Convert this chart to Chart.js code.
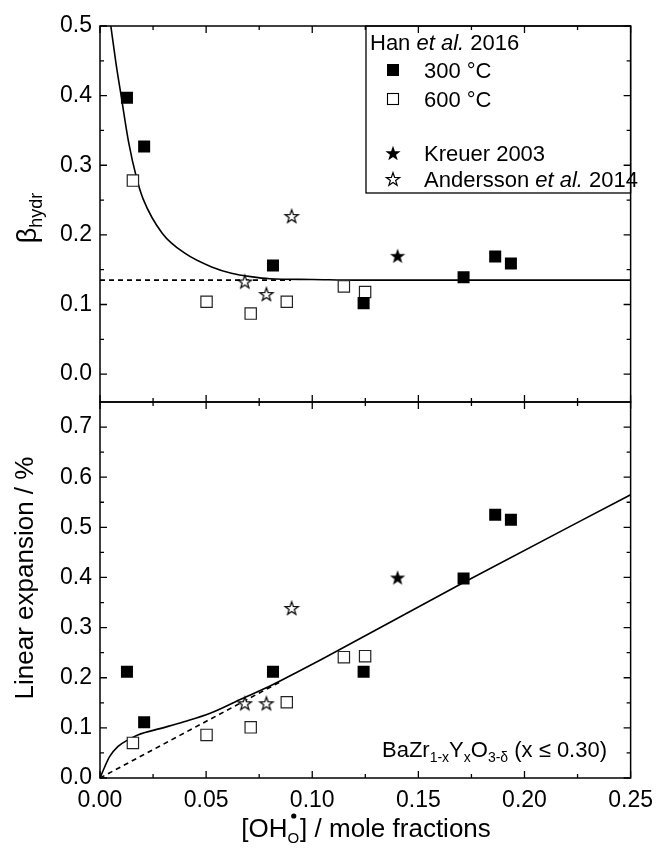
<!DOCTYPE html>
<html>
<head>
<meta charset="utf-8">
<script src="https://cdn.jsdelivr.net/npm/chart.js@4.4.1/dist/chart.umd.min.js"></script>
<style>
  html, body { margin: 0; padding: 0; background: #fff; }
  canvas { display: block; }
</style>
</head>
<body>
<canvas id="chart" width="662" height="855"></canvas>
<script>
// axis ticks
const xTicks = [0, 0.05, 0.1, 0.15, 0.2, 0.25];
const xTickLabels = ['0.00', '0.05', '0.10', '0.15', '0.20', '0.25'];
const xMinor = [0.025, 0.075, 0.125, 0.175, 0.225];
const betaTicks = [0, 0.1, 0.2, 0.3, 0.4, 0.5];
const betaTickLabels = ['0.0', '0.1', '0.2', '0.3', '0.4', '0.5'];
const betaMinor = [0.05, 0.15, 0.25, 0.35, 0.45];
const expTicks = [0, 0.1, 0.2, 0.3, 0.4, 0.5, 0.6, 0.7];
const expTickLabels = ['0.0', '0.1', '0.2', '0.3', '0.4', '0.5', '0.6', '0.7'];
const expMinor = [0.05, 0.15, 0.25, 0.35, 0.45, 0.55, 0.65];

// Han et al. 2016, 300 °C
const han300X = [0.0127, 0.0208, 0.0815, 0.1242, 0.1713, 0.1862, 0.1936];
const han300Beta = [0.397, 0.327, 0.156, 0.102, 0.139, 0.169, 0.159];
const han300Exp = [0.212, 0.111, 0.212, 0.212, 0.398, 0.525, 0.515];
// Han et al. 2016, 600 °C
const han600X = [0.0155, 0.0502, 0.0710, 0.0880, 0.1149, 0.1249];
const han600Beta = [0.278, 0.104, 0.087, 0.104, 0.126, 0.118];
const han600Exp = [0.070, 0.086, 0.101, 0.151, 0.241, 0.243];
// Kreuer 2003
const kreuerX = [0.1402];
const kreuerBeta = [0.170];
const kreuerExp = [0.400];
// Andersson et al. 2014
const anderssonX = [0.0682, 0.0784, 0.0903];
const anderssonBeta = [0.133, 0.115, 0.227];
const anderssonExp = [0.149, 0.149, 0.339];

// model curves
const betaFitX = [0.0051, 0.0075, 0.0101, 0.0135, 0.0173, 0.0204, 0.0294, 0.0403, 0.0526, 0.0619, 0.071, 0.080, 0.100, 0.120, 0.250];
const betaFitY = [0.500, 0.447, 0.397, 0.333, 0.281, 0.251, 0.202, 0.173, 0.154, 0.145, 0.140, 0.137, 0.136, 0.135, 0.135];
const betaLimitX = [0, 0.09];
const betaLimitY = [0.135, 0.135];
const expFitX = [0, 0.0023, 0.0046, 0.0085, 0.0132, 0.0178, 0.0287, 0.0395, 0.0519, 0.0658, 0.0813, 0.0937, 0.1045, 0.1713, 0.250];
const expFitY = [0, 0.023, 0.043, 0.063, 0.076, 0.086, 0.099, 0.112, 0.129, 0.156, 0.186, 0.213, 0.237, 0.390, 0.565];
const expLimitX = [0, 0.085];
const expLimitY = [0, 0.192];

const FONT = '"Liberation Sans", Arial, sans-serif';
const pts = (xs, ys) => xs.map((x, i) => ({ x, y: ys[i] }));

function starPath(g, cx, cy, R) {
  const r = R * 0.4;
  g.beginPath();
  for (let i = 0; i < 10; i++) {
    const a = -Math.PI / 2 + i * Math.PI / 5;
    const rad = i % 2 ? r : R;
    g.lineTo(cx + rad * Math.cos(a), cy + rad * Math.sin(a));
  }
  g.closePath();
}

function makeStar(R, filled) {
  const c = document.createElement('canvas');
  const s = Math.ceil(R * 2 + 4);
  c.width = c.height = s;
  const g = c.getContext('2d');
  starPath(g, s / 2, s / 2 + R * 0.1, R);
  if (filled) {
    g.fillStyle = '#000';
    g.fill();
  } else {
    g.fillStyle = '#fff';
    g.fill();
    g.strokeStyle = '#000';
    g.lineWidth = 1.2;
    g.stroke();
  }
  return c;
}

const filledStar = makeStar(8, true);
const openStar = makeStar(7, false);

function marks(data, yAxisID, kind) {
  const base = { data, yAxisID, showLine: false, order: 0 };
  if (kind === 'filled') return { ...base, pointStyle: 'rect', pointRadius: 8.5, backgroundColor: '#000', borderColor: '#000', borderWidth: 0 };
  if (kind === 'open') return { ...base, pointStyle: 'rect', pointRadius: 8, backgroundColor: '#fff', borderColor: '#222', borderWidth: 1.2 };
  if (kind === 'star') return { ...base, pointStyle: filledStar, pointRadius: 8 };
  return { ...base, pointStyle: openStar, pointRadius: 7 };
}

function curve(data, yAxisID, dashed) {
  return {
    data, yAxisID, showLine: true, order: 1,
    pointRadius: 0, borderColor: '#000', borderWidth: 1.6,
    borderDash: dashed ? [5, 4] : [],
    cubicInterpolationMode: dashed ? 'default' : 'monotone'
  };
}

const datasets = [
  marks(pts(han300X, han300Beta), 'yTop', 'filled'),
  marks(pts(han600X, han600Beta), 'yTop', 'open'),
  marks(pts(kreuerX, kreuerBeta), 'yTop', 'star'),
  marks(pts(anderssonX, anderssonBeta), 'yTop', 'openstar'),
  marks(pts(han300X, han300Exp), 'yBot', 'filled'),
  marks(pts(han600X, han600Exp), 'yBot', 'open'),
  marks(pts(kreuerX, kreuerExp), 'yBot', 'star'),
  marks(pts(anderssonX, anderssonExp), 'yBot', 'openstar'),
  curve(pts(betaFitX, betaFitY), 'yTop', false),
  curve(pts(betaLimitX, betaLimitY), 'yTop', true),
  curve(pts(expFitX, expFitY), 'yBot', false),
  curve(pts(expLimitX, expLimitY), 'yBot', true)
];

function yScale(min, max, ticks, labels) {
  return {
    type: 'linear', position: 'left', stack: 'panels', stackWeight: 1,
    min, max,
    grid: { display: false, drawTicks: false },
    border: { display: false },
    afterBuildTicks: s => { s.ticks = ticks.map(v => ({ value: v })); },
    afterFit: s => { s.width = 100; },
    ticks: {
      color: '#000', padding: 8, autoSkip: false,
      font: { family: FONT, size: 23 },
      callback: (v, i) => labels[i]
    }
  };
}

function drawRich(ctx, parts, x, y) {
  for (const p of parts) {
    ctx.font = (p.italic ? 'italic ' : '') + p.size + 'px ' + FONT;
    ctx.fillText(p.t, x, y + (p.dy || 0));
    x += ctx.measureText(p.t).width;
  }
  return x;
}

const framePlugin = {
  id: 'frame',
  afterDraw(chart) {
    const ctx = chart.ctx;
    const xs = chart.scales.x;
    const left = xs.left, right = xs.right;
    ctx.save();
    ctx.strokeStyle = '#000';
    ctx.fillStyle = '#000';

    const panels = [
      { s: chart.scales.yTop, major: betaTicks, minor: betaMinor },
      { s: chart.scales.yBot, major: expTicks, minor: expMinor }
    ];
    for (const p of panels) {
      const top = p.s.top, bottom = p.s.bottom;
      ctx.lineWidth = 1.5;
      ctx.strokeRect(left, top, right - left, bottom - top);
      ctx.lineWidth = 1.3;
      ctx.beginPath();
      const tick = (vals, len) => {
        for (const v of vals) {
          const px = xs.getPixelForValue(v);
          ctx.moveTo(px, bottom); ctx.lineTo(px, bottom - len);
          ctx.moveTo(px, top); ctx.lineTo(px, top + len);
        }
      };
      const ytick = (vals, len) => {
        for (const v of vals) {
          const py = p.s.getPixelForValue(v);
          ctx.moveTo(left, py); ctx.lineTo(left + len, py);
          ctx.moveTo(right, py); ctx.lineTo(right - len, py);
        }
      };
      tick(xTicks, 7); tick(xMinor, 4);
      ytick(p.major, 7); ytick(p.minor, 4);
      ctx.stroke();
    }

    // legend
    const lx = 366, ly = chart.scales.yTop.top;
    ctx.lineWidth = 1.3;
    ctx.strokeRect(lx, ly, right - lx, 167);
    ctx.textBaseline = 'alphabetic';
    ctx.textAlign = 'left';
    drawRich(ctx, [
      { t: 'Han ', size: 22 }, { t: 'et al.', size: 22, italic: true }, { t: ' 2016', size: 22 }
    ], 370, ly + 24);
    const sx = 393, tx = 424;
    ctx.fillRect(sx - 6, ly + 44 - 6, 12, 12);
    drawRich(ctx, [{ t: '300 °C', size: 22 }], tx, ly + 52);
    ctx.fillStyle = '#fff';
    ctx.fillRect(sx - 6, ly + 73 - 6, 12, 12);
    ctx.lineWidth = 1.1;
    ctx.strokeRect(sx - 5.5, ly + 73 - 5.5, 11, 11);
    ctx.fillStyle = '#000';
    drawRich(ctx, [{ t: '600 °C', size: 22 }], tx, ly + 81);
    ctx.drawImage(filledStar, sx - filledStar.width / 2, ly + 127 - filledStar.height / 2);
    drawRich(ctx, [{ t: 'Kreuer 2003', size: 22 }], tx, ly + 135);
    ctx.drawImage(openStar, sx - openStar.width / 2, ly + 153 - openStar.height / 2);
    drawRich(ctx, [
      { t: 'Andersson ', size: 22 }, { t: 'et al.', size: 22, italic: true }, { t: ' 2014', size: 22 }
    ], tx, ly + 161);

    // composition note
    drawRich(ctx, [
      { t: 'BaZr', size: 22 }, { t: '1-x', size: 14, dy: 5 }, { t: 'Y', size: 22 },
      { t: 'x', size: 14, dy: 5 }, { t: 'O', size: 22 }, { t: '3-δ', size: 14, dy: 5 },
      { t: ' (x ≤ 0.30)', size: 22 }
    ], 382, 757);

    // y titles
    ctx.save();
    ctx.translate(36, 218);
    ctx.rotate(-Math.PI / 2);
    ctx.font = '27px ' + FONT;
    const wb = ctx.measureText('β').width;
    ctx.font = '18px ' + FONT;
    const wh = ctx.measureText('hydr').width;
    const x0 = -(wb + wh) / 2;
    drawRich(ctx, [{ t: 'β', size: 27 }, { t: 'hydr', size: 18, dy: 6 }], x0, 0);
    ctx.restore();

    ctx.save();
    ctx.translate(26, 578);
    ctx.rotate(-Math.PI / 2);
    ctx.font = '26px ' + FONT;
    ctx.textAlign = 'center';
    ctx.textBaseline = 'middle';
    ctx.fillText('Linear expansion / %', 0, 0);
    ctx.restore();

    // x title: [OH_O^•] / mole fractions
    ctx.font = '26px ' + FONT;
    const w1 = ctx.measureText('[OH').width;
    const w3 = ctx.measureText('] / mole fractions').width;
    ctx.font = '15px ' + FONT;
    const w2 = ctx.measureText('O').width + 1;
    let cx = 366 - (w1 + w2 + w3) / 2;
    const base = 837;
    ctx.font = '26px ' + FONT;
    ctx.fillText('[OH', cx, base);
    cx += w1;
    ctx.font = '15px ' + FONT;
    ctx.fillText('O', cx, base + 6);
    ctx.beginPath();
    ctx.arc(cx + w2 / 2, base - 21, 2.6, 0, Math.PI * 2);
    ctx.fill();
    cx += w2;
    ctx.font = '26px ' + FONT;
    ctx.fillText('] / mole fractions', cx, base);
    ctx.restore();
  }
};

new Chart(document.getElementById('chart'), {
  type: 'scatter',
  data: { datasets },
  options: {
    responsive: false,
    animation: false,
    layout: { padding: { top: 26, right: 24, left: 0, bottom: 0 } },
    plugins: { legend: { display: false }, tooltip: { enabled: false } },
    scales: {
      x: {
        type: 'linear', position: 'bottom', min: 0, max: 0.25,
        grid: { display: false, drawTicks: false },
        border: { display: false },
        afterBuildTicks: s => { s.ticks = xTicks.map(v => ({ value: v })); },
        afterFit: s => { s.height = 77; },
        ticks: {
          color: '#000', padding: 9, autoSkip: false, maxRotation: 0,
          font: { family: FONT, size: 23 },
          callback: (v, i) => xTickLabels[i]
        }
      },
      yBot: yScale(0, 0.75, expTicks, expTickLabels),
      yTop: yScale(-0.04, 0.5, betaTicks, betaTickLabels)
    }
  },
  plugins: [framePlugin]
});
</script>
</body>
</html>
